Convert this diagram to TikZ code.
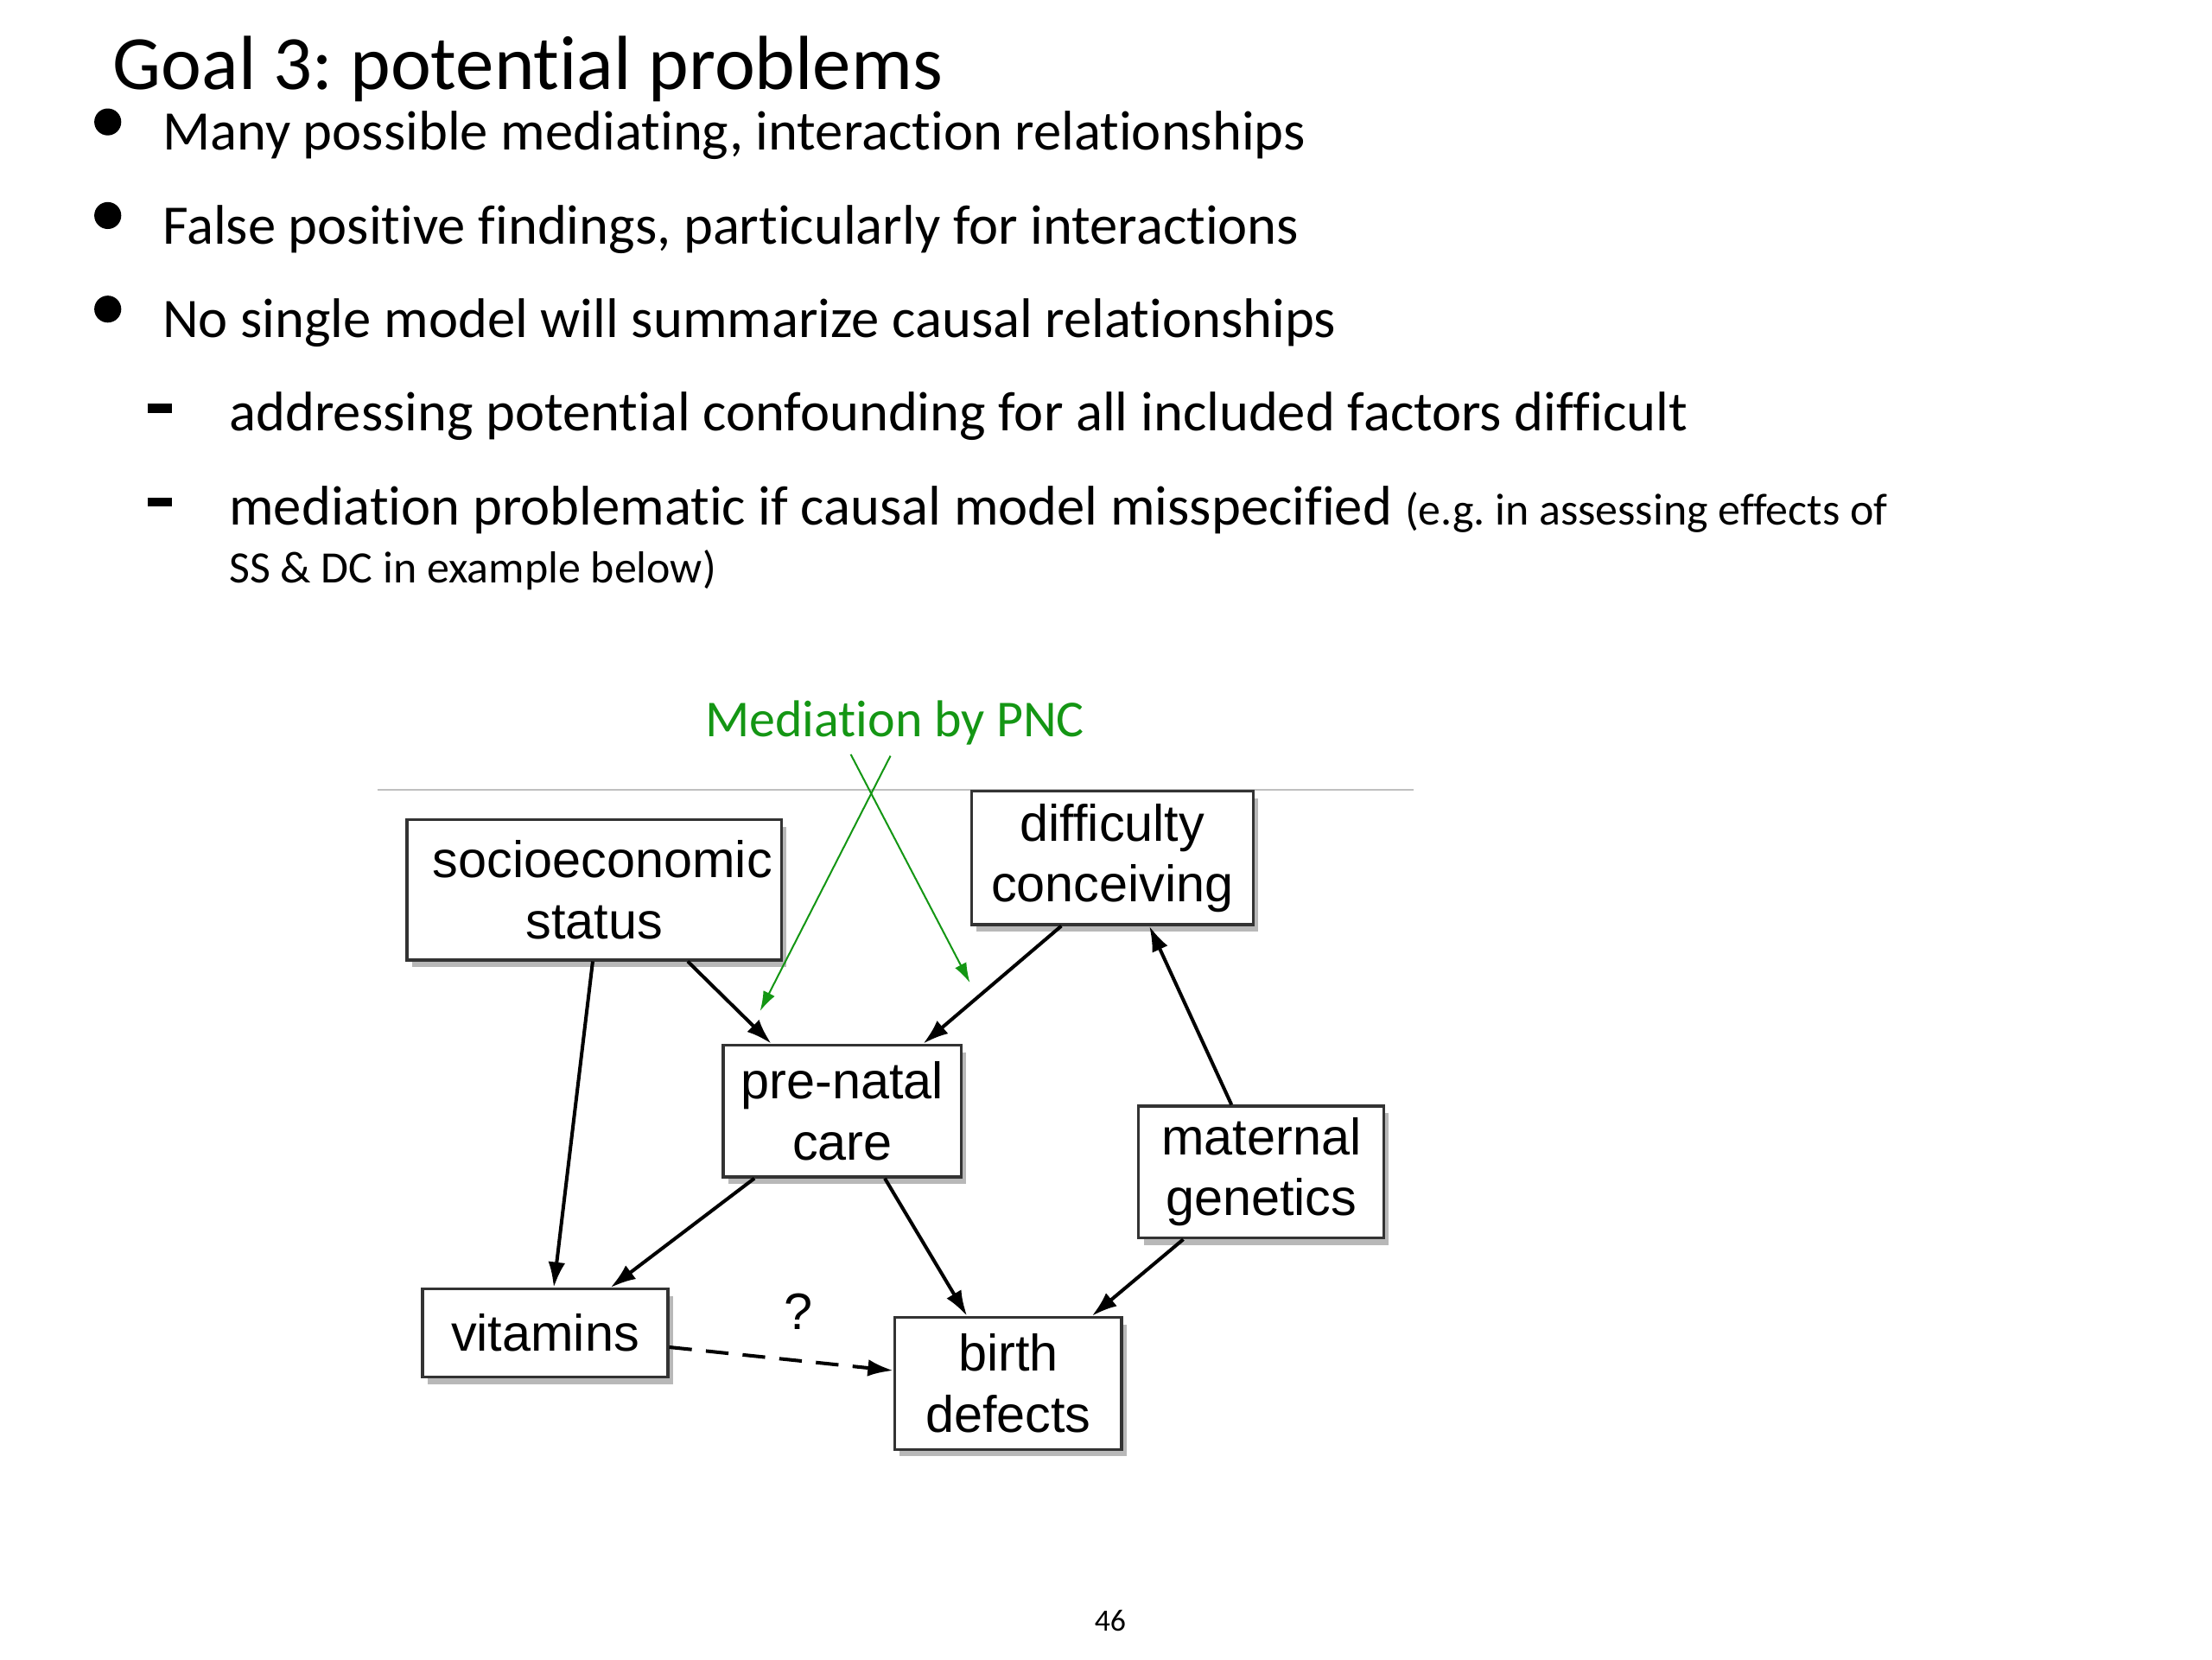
\documentclass[tikz,border=0pt]{standalone}
\usepackage{fontspec}
\setmainfont{Carlito}[Ligatures=CommonOff]
\newfontfamily\arialfont{Liberation Sans}
\usetikzlibrary{arrows.meta,shadows}
\definecolor{pncgreen}{RGB}{20,150,20}
\frenchspacing

\begin{document}
\begin{tikzpicture}[
  box/.style={draw=black!80, line width=0.55pt, fill=white, align=center, inner sep=0pt,
    font=\arialfont\fontsize{10.3}{12.2}\selectfont,
    drop shadow={shadow xshift=1pt, shadow yshift=-1.4pt, fill=black!35, opacity=0.8}},
  arr/.style={-{Latex[length=1.8mm,width=1.2mm]}, line width=0.7pt},
  garr/.style={-{Latex[length=1.4mm,width=0.9mm]}, line width=0.35pt, draw=pncgreen},
  txt/.style={anchor=base west, inner sep=0pt, font=\fontsize{11.2}{13}\selectfont}]
 \useasboundingbox (0,0) rectangle (15.6,-11.7);
 \node [anchor=base west, inner sep=0pt, font=\fontsize{15.4}{18}\selectfont] (title) at (0.79,-0.63) {Goal 3: potential problems};
 \foreach \y in {0.86,1.52,2.18}
   \fill (0.76,-\y) circle (0.095);
 \foreach \y in {2.88,3.54}
   \draw [line width=1.8pt] (1.04,-\y) -- (1.21,-\y);
 \node [txt] (b1) at (1.14,-1.06) {Many possible mediating, interaction relationships};
 \node [txt] (b2) at (1.14,-1.72) {False positive findings, particularly for interactions};
 \node [txt] (b3) at (1.14,-2.38) {No single model will summarize causal relationships};
 \node [txt] (s1) at (1.61,-3.04) {addressing potential confounding for all included factors difficult};
 \node [txt] (s2) at (1.61,-3.70) {mediation problematic if causal model misspecified {\fontsize{9}{11}\selectfont (e.g. in assessing effects of}};
 \node [txt, font=\fontsize{9}{11}\selectfont] (s2b) at (1.61,-4.11) {SS \& DC in example below)};

 \node [text=pncgreen, font=\fontsize{10.4}{12}\selectfont] (med) at (6.31,-5.10) {Mediation by PNC};
 \draw [black!25, line width=0.4pt] (2.66,-5.57) -- (9.97,-5.57);

 \node [box, minimum width=2.64cm, minimum height=0.99cm] (ses) at (4.19,-6.275) {\hspace*{0.12cm}socioeconomic\\status};
 \node [box, minimum width=1.99cm, minimum height=0.94cm] (dc) at (7.845,-6.05) {difficulty\\conceiving};
 \node [box, minimum width=1.68cm, minimum height=0.93cm] (pnc) at (5.94,-7.835) {pre-natal\\care};
 \node [box, minimum width=1.73cm, minimum height=0.93cm] (mg) at (8.895,-8.265) {maternal\\genetics};
 \node [box, minimum width=1.73cm, minimum height=0.62cm] (vit) at (3.845,-9.40) {vitamins};
 \node [box, minimum width=1.60cm, minimum height=0.93cm] (bd) at (7.11,-9.755) {birth\\defects};
 \node [font=\arialfont\fontsize{10.3}{12}\selectfont] (q) at (5.63,-9.25) {?};

 \coordinate (ga) at (6.28,-5.33);
 \coordinate (gb) at (6.00,-5.32);
 \coordinate (ea) at (5.36,-7.13);
 \coordinate (eb) at (6.84,-6.93);
 \draw [garr] (ga) -- (ea);
 \draw [garr] (gb) -- (eb);

 \draw [arr] ([xshift=-0.01cm]ses.south) -- ([xshift=0.06cm]vit.north);
 \draw [arr] ([xshift=0.66cm]ses.south) -- ([xshift=-0.50cm]pnc.north);
 \draw [arr] ([xshift=-0.36cm]dc.south) -- ([xshift=0.57cm]pnc.north);
 \draw [arr] ([xshift=-0.21cm]mg.north) -- ([xshift=0.26cm]dc.south);
 \draw [arr] ([xshift=-0.62cm]pnc.south) -- ([xshift=0.46cm]vit.north);
 \draw [arr] ([xshift=0.30cm]pnc.south) -- ([xshift=-0.29cm]bd.north);
 \draw [arr] ([xshift=-0.55cm]mg.south) -- ([xshift=0.59cm]bd.north);
 \draw [arr, dash pattern=on 1.6mm off 1.0mm] ([yshift=-0.10cm]vit.east) -- ([yshift=0.09cm]bd.west);

 \node [font=\fontsize{6.2}{8}\selectfont] (page) at (7.83,-11.43) {46};
\end{tikzpicture}
\end{document}
